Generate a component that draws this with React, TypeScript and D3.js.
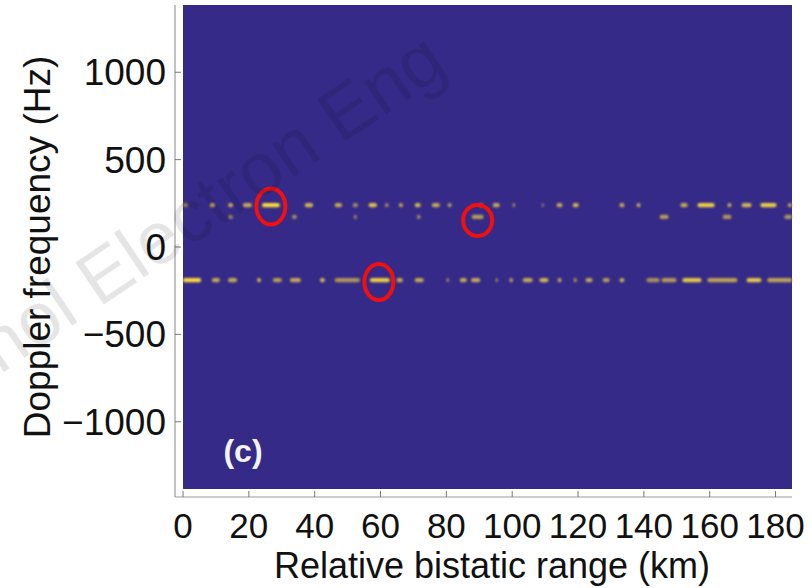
import * as d3 from 'd3';
import React from 'react';

// range-doppler map, panel (c)
const xTicks = [0, 20, 40, 60, 80, 100, 120, 140, 160, 180];
const yTicks = [-1000, -500, 0, 500, 1000];
const lineFreqs = [240, 172, -190]; // Hz of the three clutter ridges

// [start km, end km, level 0..1]
const upperDashes: [number, number, number][] = [
  [0, 1.5, 0.4], [8.2, 9.7, 0.7], [13.7, 15.2, 0.6], [18.2, 20.9, 0.6], [24, 29.4, 1.0],
  [37, 39.5, 0.7], [46.1, 48.3, 0.6], [51.6, 53.1, 0.4], [56.4, 58.9, 0.8], [61.3, 62.5, 0.3],
  [65.6, 66.8, 0.6], [70.4, 72.2, 0.7], [75.6, 78, 0.6], [80.4, 81.6, 0.5], [90.1, 91, 0.5],
  [94.1, 96.2, 0.6], [100.2, 100.8, 0.6], [109, 109.6, 0.3], [113.5, 115.3, 0.6], [118.4, 120.2, 0.7],
  [132.6, 134.1, 0.6], [137.8, 139, 0.6], [151.1, 153.3, 0.6], [156.3, 161.5, 0.9], [165.4, 166.6, 0.6],
  [169.7, 172.7, 0.7], [175.4, 180.3, 0.9], [183.7, 185, 0.5],
];
const middleDashes: [number, number, number][] = [
  [13.7, 15.2, 0.4], [33.1, 34.6, 0.4], [51.9, 52.8, 0.35], [71, 72.2, 0.35], [87.7, 91.3, 0.5],
  [144.8, 147.5, 0.5], [163.9, 166.6, 0.45], [182.7, 185, 0.45],
];
const lowerDashes: [number, number, number][] = [
  [0, 5.5, 1.0], [8.8, 11.2, 0.6], [13.7, 16.4, 0.6], [22.5, 23.7, 0.7], [27.3, 30, 0.5],
  [32.5, 35.8, 0.6], [41.6, 43.1, 0.7], [46.1, 53.7, 0.45], [56.8, 62.8, 0.9], [64.9, 66.8, 0.6],
  [70.4, 73.1, 0.6], [80.1, 80.7, 0.6], [84.1, 86.2, 0.6], [87.5, 90.3, 0.6], [95, 95.6, 0.5],
  [99.2, 100.2, 0.6], [103.2, 106.2, 0.6], [108.3, 111, 0.7], [113.8, 115, 0.6], [118.7, 119.6, 0.5],
  [122.3, 124.4, 0.6], [127.5, 129.6, 0.5], [132.6, 134.1, 0.6], [140.8, 144.8, 0.4], [145.4, 149.9, 0.5],
  [151.7, 157.5, 0.85], [159.3, 168.4, 0.55], [171.2, 175.7, 0.85], [177.5, 185, 0.55],
];
const dashSets = [upperDashes, middleDashes, lowerDashes];

// red markers: [km, Hz]
const markers: [number, number][] = [[26.7, 232], [59.5, -200], [89.5, 152]];

const W = 812, H = 588;
const plot = { left: 183, right: 792, top: 5, bottom: 489 };
const font = '"Liberation Sans", Arial, sans-serif';

export default function App() {
  const x = d3.scaleLinear().domain([0, 185]).range([plot.left, plot.right]);
  const y = d3.scaleLinear().domain([-1385, 1385]).range([plot.bottom, plot.top]);
  const color = (v: number) => d3.interpolateRgb('#352a87', '#fada3e')(0.3 + 0.7 * v);
  const axisX = 175, axisY = 497;

  return (
    <div style={{ position: 'absolute', left: 0, top: 0 }}>
      <svg width={W} height={H} style={{ display: 'block', background: '#fff' }}>
        <defs>
          <filter id="soft" x="-20%" y="-100%" width="140%" height="300%">
            <feGaussianBlur stdDeviation="0.9" />
          </filter>
        </defs>
        <rect x={plot.left} y={plot.top} width={plot.right - plot.left} height={plot.bottom - plot.top} fill="#352a87" />
        <g filter="url(#soft)">
          {dashSets.map((set, k) =>
            set.map(([a, b, v], i) => (
              <rect key={k + '-' + i} x={x(a)} width={Math.max(2, x(b) - x(a))}
                y={y(lineFreqs[k] + 12)} height={y(lineFreqs[k] - 12) - y(lineFreqs[k] + 12)}
                rx={2} fill={color(v)} />
            ))
          )}
        </g>
        {markers.map(([km, hz], i) => (
          <ellipse key={i} cx={x(km)} cy={y(hz)} rx={14.5} ry={i === 2 ? 15.5 : 18}
            fill="none" stroke="#f01010" strokeWidth={4} />
        ))}
        <text x={243} y={462} textAnchor="middle" fontFamily={font} fontWeight="bold" fontSize={32} fill="#f4f4f4">(c)</text>

        {/* axes */}
        <line x1={axisX} y1={plot.top} x2={axisX} y2={axisY} stroke="#9a9a9a" strokeWidth={1.2} />
        <line x1={axisX} y1={axisY} x2={plot.right} y2={axisY} stroke="#9a9a9a" strokeWidth={1.2} />
        {yTicks.map(t => (
          <g key={t}>
            <line x1={axisX} x2={axisX + 6} y1={y(t)} y2={y(t)} stroke="#777" strokeWidth={1} />
            <text x={166} y={y(t) + 13} textAnchor="end" fontFamily={font} fontSize={37} fill="#111">
              {t < 0 ? '\u2212' + Math.abs(t) : t}
            </text>
          </g>
        ))}
        {xTicks.map(t => (
          <g key={t}>
            <line x1={x(t)} x2={x(t)} y1={axisY} y2={axisY - 6} stroke="#777" strokeWidth={1} />
            <text x={x(t)} y={538} textAnchor="middle" fontFamily={font} fontSize={35} fill="#111">{t}</text>
          </g>
        ))}
        <text x={492} y={578} textAnchor="middle" fontFamily={font} fontSize={36} fill="#111">
          Relative bistatic range (km)
        </text>
        <text transform={`translate(50,${y(0)}) rotate(-90)`} textAnchor="middle" fontFamily={font} fontSize={37} fill="#111">
          Doppler frequency (Hz)
        </text>

        {/* watermark */}
        <text transform="translate(450,71) rotate(-34)" textAnchor="end" fontFamily={font} fontSize={74}
          fill="#000" fillOpacity={0.1}>nol Electron Eng</text>
      </svg>
    </div>
  );
}
